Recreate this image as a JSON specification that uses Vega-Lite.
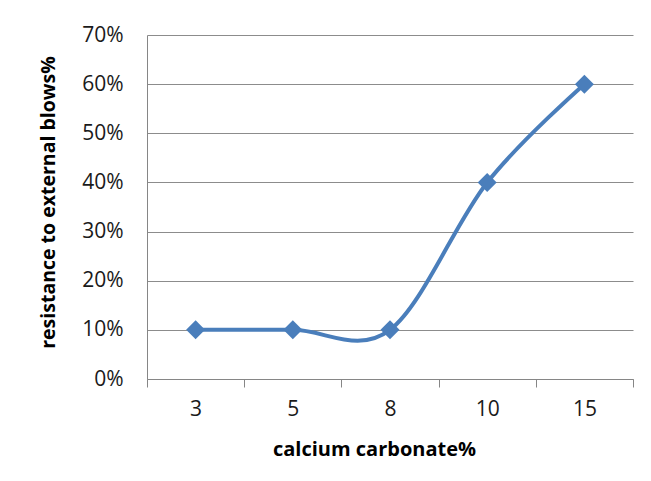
{
  "$schema": "https://vega.github.io/schema/vega-lite/v6.json",
  "width": 486,
  "height": 344,
  "autosize": {"type": "none"},
  "padding": {"left": 147, "top": 35, "right": 18, "bottom": 102},
  "background": "white",
  "config": {
    "view": {"stroke": null},
    "font": "Open Sans",
    "axis": {
      "labelFont": "Open Sans",
      "labelFontSize": 21,
      "labelColor": "#1a1a1a",
      "titleFont": "Open Sans",
      "titleFontWeight": "bold",
      "titleColor": "#000000",
      "domainColor": "#868686",
      "tickColor": "#868686",
      "gridColor": "#8C8C8C"
    }
  },
  "data": {
    "values": [
      {"cc": "3", "r": 0.1},
      {"cc": "5", "r": 0.1},
      {"cc": "8", "r": 0.1},
      {"cc": "10", "r": 0.4},
      {"cc": "15", "r": 0.6}
    ]
  },
  "encoding": {
    "x": {
      "field": "cc",
      "type": "ordinal",
      "sort": null,
      "scale": {"type": "band", "paddingInner": 0, "paddingOuter": 0},
      "axis": {
        "title": "calcium carbonate%",
        "titleFontSize": 20,
        "labelAngle": 0,
        "tickBand": "extent",
        "tickSize": 8,
        "labelPadding": 11,
        "grid": false,
        "titleX": 227,
        "titleAlign": "center",
        "titleY": 70,
        "titleBaseline": "middle"
      }
    },
    "y": {
      "field": "r",
      "type": "quantitative",
      "scale": {"domain": [0, 0.7], "nice": false},
      "axis": {
        "title": "resistance to external blows%",
        "titleFontSize": 19.5,
        "values": [0, 0.1, 0.2, 0.3, 0.4, 0.5, 0.6, 0.7],
        "format": ".0%",
        "ticks": false,
        "labelPadding": 24,
        "grid": true,
        "titleX": -99,
        "titleY": 167,
        "titleAlign": "center",
        "titleBaseline": "middle",
        "titleAngle": -90
      }
    }
  },
  "layer": [
    {"mark": {"type": "line", "interpolate": "cardinal", "color": "#4A7EBB", "strokeWidth": 4}},
    {"mark": {"type": "point", "shape": "diamond", "filled": true, "color": "#4A7EBB", "size": 360, "opacity": 1}}
  ]
}
